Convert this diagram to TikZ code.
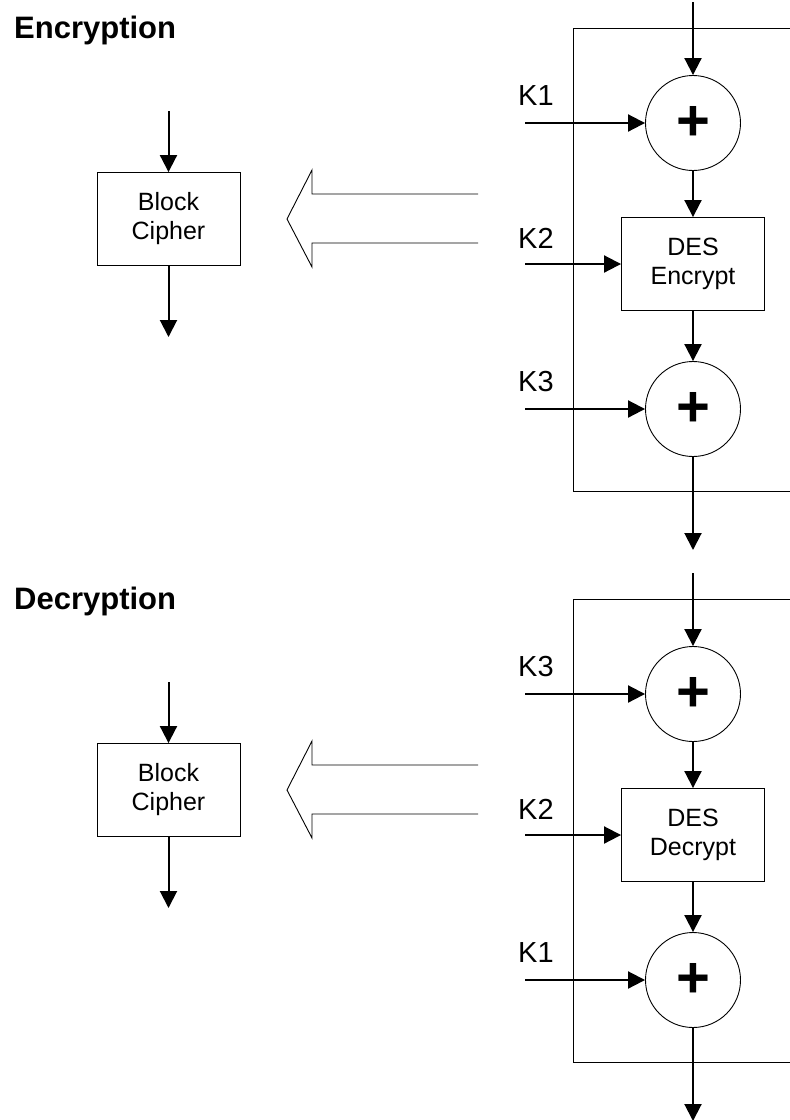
\documentclass[tikz,border=0pt]{standalone}
\usepackage{fontspec}
\setmainfont{Liberation Sans}
\usetikzlibrary{arrows.meta}

\tikzset{
    flow/.style={line width=2pt, -{Triangle[length=17pt, width=17pt]}},
    frame/.style={line width=0.9pt},
    xorbox/.style={circle, draw, line width=0.9pt, minimum size=95pt, inner sep=0pt,
        font=\fontsize{58}{58}\selectfont\bfseries},
    cipherbox/.style={draw, line width=0.9pt, minimum width=143pt, minimum height=93pt,
        align=center, font=\fontsize{25}{29}\selectfont},
    keylbl/.style={anchor=base west, inner sep=0pt, font=\fontsize{29}{29}\selectfont},
    heading/.style={anchor=base west, inner sep=0pt, font=\fontsize{31}{31}\selectfont\bfseries},
}

\begin{document}
\begin{tikzpicture}[x=1pt, y=-1pt]
    \useasboundingbox (0, 0) rectangle (790, 1120);

    \foreach \s/\dy/\head/\ka/\kc/\desop in {e/0/Encryption/K1/K3/Encrypt, d/571/Decryption/K3/K1/Decrypt} {
    \begin{scope}[yshift=-\dy pt]
        \node[heading] (head\s) at (14, 38) {\head};

        % triple DES chain
        \draw[frame] (790, 28) -- (573, 28) -- (573, 491) -- (790, 491);
        \coordinate (in\s) at (693, 2);
        \node[xorbox] (xa\s) at (693, 123) {+};
        \node[cipherbox] (des\s) at (693, 264) {DES\\\desop};
        \node[xorbox] (xb\s) at (693, 409) {+};
        \coordinate (out\s) at (693, 550);

        \draw[flow] (in\s) -- (xa\s);
        \draw[flow] (xa\s) -- (des\s);
        \draw[flow] (des\s) -- (xb\s);
        \draw[flow] (xb\s) -- (out\s);

        % keys
        \coordinate (ka\s) at (525, 123);
        \coordinate (kb\s) at (525, 264);
        \coordinate (kc\s) at (525, 409);
        \draw[flow] (ka\s) -- (xa\s);
        \draw[flow] (kb\s) -- (des\s);
        \draw[flow] (kc\s) -- (xb\s);
        \node[keylbl] (lka\s) at (518, 105) {\ka};
        \node[keylbl] (lkb\s) at (518, 248) {K2};
        \node[keylbl] (lkc\s) at (518, 391) {\kc};

        % equivalent block cipher
        \node[cipherbox] (bc\s) at (168.5, 219) {Block\\Cipher};
        \coordinate (bin\s) at (168.5, 111);
        \coordinate (bout\s) at (168.5, 337);
        \draw[flow] (bin\s) -- (bc\s);
        \draw[flow] (bc\s) -- (bout\s);

        % hollow arrow
        \draw[frame, line join=miter] (478, 194) -- (312, 194) -- (312, 170) -- (287, 219)
            -- (312, 267) -- (312, 243) -- (478, 243);
    \end{scope}
    }
\end{tikzpicture}
\end{document}
